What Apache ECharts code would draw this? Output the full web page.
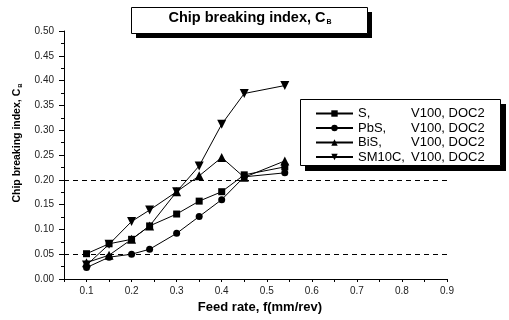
<!DOCTYPE html>
<html>
<head>
<meta charset="utf-8">
<script src="https://cdn.jsdelivr.net/npm/echarts@6/dist/echarts.min.js"></script>
<style>
  * { margin: 0; padding: 0; }
  #chart-container { width: 509px; height: 320px; background: #fff; }
</style>
</head>
<body>
<div id="chart-container"></div>
<script>
  // feed rate values (mm/rev)
  var feedRate = [0.1, 0.15, 0.2, 0.24, 0.3, 0.35, 0.4, 0.45, 0.54]
  var seriesNames = ['S', 'PbS', 'BiS', 'SM10C']
  var sData = [0.051, 0.071, 0.080, 0.107, 0.131, 0.157, 0.176, 0.210, 0.226]
  var pbsData = [0.023, 0.044, 0.050, 0.060, 0.092, 0.126, 0.160, 0.206, 0.214]
  var bisData = [0.033, 0.048, 0.080, 0.107, 0.176, 0.208, 0.245, 0.205, 0.238]
  var sm10cData = [0.028, 0.070, 0.116, 0.139, 0.176, 0.228, 0.312, 0.374, 0.390]
  var refLines = [0.05, 0.2]

  var chartDom = document.getElementById('chart-container')
  var myChart = echarts.init(chartDom, null, { renderer: 'canvas' })

  function pairs(arr) {
    return arr.map(function (v, i) { return [feedRate[i], v] })
  }

  function makeSeries(name, data, symbol, size, rotate) {
    return {
      name: name,
      type: 'line',
      data: pairs(data),
      symbol: symbol,
      symbolSize: size,
      symbolRotate: rotate || 0,
      showSymbol: true,
      itemStyle: { color: '#000' },
      lineStyle: { color: '#000', width: 1 },
      z: 5
    }
  }

  var series = [
    makeSeries(seriesNames[0], sData, 'rect', 7),
    makeSeries(seriesNames[1], pbsData, 'circle', 7),
    makeSeries(seriesNames[2], bisData, 'triangle', 9),
    makeSeries(seriesNames[3], sm10cData, 'triangle', 9, 180)
  ]
  series[0].markLine = {
    silent: true,
    symbol: 'none',
    label: { show: false },
    lineStyle: { color: '#000', type: [5, 4], width: 1 },
    data: refLines.map(function (v) { return { yAxis: v } })
  }

  var option = {
    animation: false,
    title: {
      text: '{a|Chip breaking index, C}{b|B}',
      left: 250,
      top: 10,
      padding: 0,
      textAlign: 'center',
      z: 20,
      textStyle: {
        rich: {
          a: { fontFamily: 'Arial', fontWeight: 'bold', fontSize: 14.5, color: '#000' },
          b: { fontFamily: 'Arial', fontWeight: 'bold', fontSize: 7, color: '#000', padding: [9, 0, 0, 1] }
        }
      }
    },
    graphic: [
      { type: 'rect', z: 10, shape: { x: 136, y: 12, width: 236, height: 26 }, style: { fill: '#000' } },
      { type: 'rect', z: 11, shape: { x: 131.5, y: 7.5, width: 236, height: 26 }, style: { fill: '#fff', stroke: '#000', lineWidth: 1 } },
      { type: 'rect', z: 10, shape: { x: 305, y: 104, width: 201, height: 67 }, style: { fill: '#000' } },
      { type: 'rect', z: 11, shape: { x: 300.5, y: 99.5, width: 200, height: 66 }, style: { fill: '#fff', stroke: '#000', lineWidth: 1 } }
    ],
    legend: {
      orient: 'vertical',
      left: 315,
      top: 107,
      padding: 0,
      z: 20,
      itemWidth: 37,
      itemHeight: 8,
      itemGap: 1.5,
      data: seriesNames,
      formatter: function (name) {
        return '{a|' + name + ',}{b|V100, DOC2}'
      },
      textStyle: {
        rich: {
          a: { fontFamily: 'Arial', fontSize: 13, color: '#000', width: 53, lineHeight: 14 },
          b: { fontFamily: 'Arial', fontSize: 13, color: '#000', lineHeight: 14 }
        }
      }
    },
    grid: {
      left: 64,
      right: 62,
      top: 31,
      bottom: 41
    },
    xAxis: {
      type: 'value',
      min: 0.05,
      max: 0.9,
      interval: 0.05,
      name: 'Feed rate, f(mm/rev)',
      nameLocation: 'middle',
      nameGap: 22,
      nameTextStyle: { fontFamily: 'Arial', fontWeight: 'bold', fontSize: 13, color: '#000', padding: [0, 0, 0, 9] },
      axisLine: { lineStyle: { color: '#000', width: 1 } },
      axisTick: { length: 3, lineStyle: { color: '#000' } },
      axisLabel: {
        fontFamily: 'Arial',
        fontSize: 10,
        color: '#222',
        margin: 7,
        formatter: function (v) {
          return Math.round(v * 100) % 10 === 0 ? v.toFixed(1) : ''
        }
      },
      splitLine: { show: false }
    },
    yAxis: {
      type: 'value',
      min: 0,
      max: 0.5,
      interval: 0.05,
      name: '{a|Chip breaking index, C}{b|B}',
      nameLocation: 'middle',
      nameGap: 39,
      nameTextStyle: {
        padding: [0, 0, 0, 24],
        rich: {
          a: { fontFamily: 'Arial', fontWeight: 'bold', fontSize: 10.5, color: '#000' },
          b: { fontFamily: 'Arial', fontWeight: 'bold', fontSize: 6, color: '#000', padding: [7, 0, 0, 1] }
        }
      },
      axisLine: { show: true, lineStyle: { color: '#000', width: 1 } },
      axisTick: { show: true, length: 5, lineStyle: { color: '#000' } },
      minorTick: { show: true, splitNumber: 2, length: 3, lineStyle: { color: '#000' } },
      axisLabel: {
        fontFamily: 'Arial',
        fontSize: 10,
        color: '#222',
        margin: 10,
        formatter: function (v) { return v.toFixed(2) }
      },
      splitLine: { show: false }
    },
    series: series
  }

  myChart.setOption(option)
  window.addEventListener('resize', myChart.resize)
</script>
</body>
</html>
